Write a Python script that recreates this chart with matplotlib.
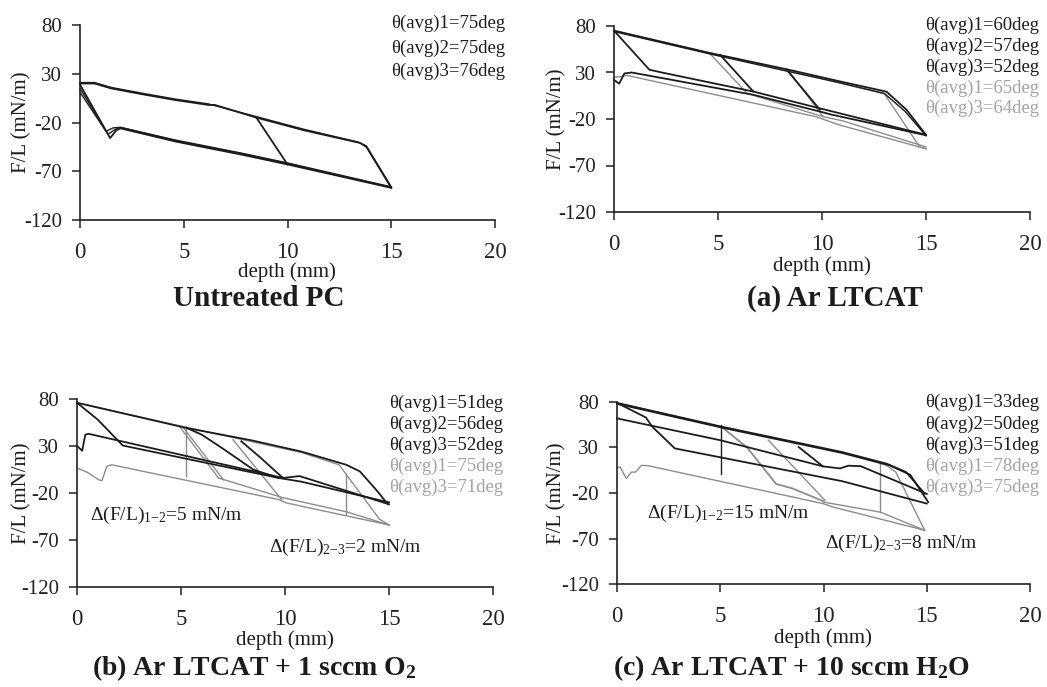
import matplotlib
matplotlib.use("Agg")
import matplotlib.pyplot as plt

plt.rcParams['font.family'] = ['Liberation Serif', 'DejaVu Serif']
plt.rcParams['mathtext.fontset'] = 'custom'
plt.rcParams['mathtext.rm'] = 'Liberation Serif'
plt.rcParams['mathtext.bf'] = 'Liberation Serif:bold'
plt.rcParams['mathtext.it'] = 'Liberation Serif:italic'
plt.rcParams['axes.unicode_minus'] = False

W, H = 1047, 687
DARK = '#1c1c1c'
GRAY = '#8c8c8c'
GRAY_TXT = '#a3a3a3'

# ---------------- data (depth mm, F/L mN/m) ----------------
x_ticks = [0, 5, 10, 15, 20]
y_ticks = [-120, -70, -20, 30, 80]

# Untreated PC
pc_upper_d = [0, 0.7, 1.5, 3.0, 4.6, 6.2, 6.5, 8.5, 10.8, 13.5, 13.8, 15.0]
pc_upper_f = [20, 20, 15, 9, 3, -2, -2, -15, -28, -41, -45, -87]
pc_upper2_d = [0, 0.7, 1.5, 3.0, 4.6, 6.2, 8.5, 10.8, 13.4, 13.8, 15.0]
pc_upper2_f = [21, 21, 16, 10, 4, -1, -14, -27, -40, -44, -86]
pc_adv1_d = [0, 1.45, 1.75, 1.95, 4.6, 7.8, 10.0, 15.0]
pc_adv1_f = [19, -36, -28, -26, -39.5, -53, -63, -87]
pc_adv2_d = [0, 1.35, 1.7, 1.95, 4.6, 7.8, 10.0, 15.0]
pc_adv2_f = [15, -32, -27, -25, -38.5, -52, -62, -86.5]
pc_adv3_d = [0, 1.25, 1.6, 1.95, 4.6, 7.8, 10.0, 15.0]
pc_adv3_f = [11, -29, -25.5, -25, -38, -51.5, -61.5, -86]
pc_rec10_d = [10.0, 8.5]
pc_rec10_f = [-63, -15]

# (a) Ar LTCAT
a_upper_d = [0, 4.6, 8.4, 10.85, 13.1, 14.06, 15.0]
a_upper_f = [75, 51, 33, 20.5, 9.4, -10, -37]
a_upper2_d = [0, 4.6, 8.3, 10.85, 13.0, 14.0, 15.0]
a_upper2_f = [74, 50, 31.5, 19, 7.5, -12, -38]
a_adv1_d = [0, 1.7, 2.3, 6.7, 9.8, 15.0]
a_adv1_f = [75, 33, 30, 9.5, -8, -37]
a_adv2_d = [0, 0.25, 0.5, 0.85, 6.7, 9.9, 10.5, 15.0]
a_adv2_f = [22, 18, 29, 30, 6, -12, -15.5, -37.5]
a_t1_d = [5.1, 6.7]
a_t1_f = [49, 9.5]
a_t2_d = [8.3, 9.9]
a_t2_f = [33, -10]
a_g_upper_d = [0, 4.6, 8.4, 13.0, 14.7, 15.0]
a_g_upper_f = [75, 51, 32, 7, -50, -52]
a_g_adv1_d = [0, 0.3, 0.6, 9.7, 10.85, 15.0]
a_g_adv1_f = [25, 25.5, 27, -17.5, -26.5, -52]
a_g_adv2_d = [6.4, 10.05, 11.0, 15.0]
a_g_adv2_f = [7.6, -17.5, -22, -50]
a_g_t1_d = [4.6, 6.4]
a_g_t1_f = [50.6, 7.6]
a_g_t2_d = [8.5, 10.05]
a_g_t2_f = [29, -17.5]

# (b) Ar LTCAT + 1 sccm O2
b_upper_d = [0, 5.3, 8.4, 10.8, 12.95, 13.6, 14.4, 14.95]
b_upper_f = [76, 49, 36, 24, 10, 3, -17, -32]
b_adv1_d = [0, 1.0, 2.2, 9.7, 10.8, 15.0]
b_adv1_f = [76, 58, 30.5, -4, -8, -30]
b_adv2_d = [0, 0.25, 0.4, 0.55, 9.9, 10.7, 15.0]
b_adv2_f = [30, 25, 42, 43, -4, -2, -32]
b_t1_d = [5.3, 6.0, 6.96, 8.48, 9.7]
b_t1_f = [49, 42, 28, 4.8, -4]
b_t2_d = [7.9, 8.8, 9.9]
b_t2_f = [35, 18, -4]
b_g_upper_d = [0, 5.03, 10.8, 12.6, 14.55, 15.0]
b_g_upper_f = [76, 51, 23, 10, -48, -54]
b_g_t1_d = [4.9, 6.8]
b_g_t1_f = [51.6, -4]
b_g_t2_d = [5.1, 7.04]
b_g_t2_f = [50, -6]
b_g_t3_d = [7.5, 9.84]
b_g_t3_f = [36.7, -27]
b_g_adv1_d = [0, 0.5, 1.05, 1.2, 1.43, 1.67, 9.7, 10.07, 15.0]
b_g_adv1_f = [6.6, 2, -6, -7, 8.3, 10, -27, -30.6, -54]
b_g_adv2_d = [6.8, 9.9, 12.95, 15.0]
b_g_adv2_f = [-4, -25, -40, -54]
b_v1_d = [5.25, 5.25]
b_v1_f = [51, -2]
b_v2_d = [12.95, 12.95]
b_v2_f = [0, -42]

# (c) Ar LTCAT + 10 sccm H2O
c_upper_d = [0, 5.15, 10.9, 13.05, 14.0, 14.9]
c_upper_f = [79, 52.5, 25, 12.3, 3, -20.7]
c_upper2_d = [0, 5.15, 10.9, 13.2, 14.2, 15.07]
c_upper2_f = [78, 51.5, 24, 10.4, 0, -30]
c_adv1_d = [0, 1.4, 1.7, 2.8, 10.9, 15.0]
c_adv1_f = [79, 63, 53, 29, -7, -31.6]
c_b_d = [0, 5.0, 9.97, 10.8, 11.2, 11.8, 15.0]
c_b_f = [62, 38, 9.3, 7, 10, 9.5, -21]
c_t1_d = [8.8, 9.97]
c_t1_f = [30.5, 9.3]
c_v1_d = [5.05, 5.05]
c_v1_f = [55, 1.3]
c_v2_d = [12.75, 12.75]
c_v2_f = [12.3, -41]
c_g_upper_d = [0, 5.15, 10.9, 13.0, 13.5, 14.9]
c_g_upper_f = [79, 52, 24.5, 11, 3, -61]
c_g_t1_d = [5.1, 6.3, 7.7, 8.5, 10.0]
c_g_t1_f = [52, 30, -10, -15, -29]
c_g_t2_d = [7.33, 10.07]
c_g_t2_f = [38, -28]
c_g_adv1_d = [0, 0.15, 0.45, 0.7, 0.9, 1.18, 1.5, 9.97, 10.46, 14.9]
c_g_adv1_f = [8, 8.6, -4, 3, 3, 10.4, 10, -31.6, -35.4, -61]
c_g_adv2_d = [10.0, 12.75, 14.9]
c_g_adv2_f = [-30, -41, -61]

# ---------------- figure ----------------
fig = plt.figure(figsize=(W / 100, H / 100), dpi=100)


def px_axes(x0, y0, x1, y1):
    return fig.add_axes([x0 / W, 1 - y1 / H, (x1 - x0) / W, (y1 - y0) / H])


def ftext(x, y, s, **kw):
    fig.text(x / W, 1 - y / H, s, **kw)


def style(ax):
    ax.set_xlim(0, 20)
    ax.set_ylim(-120, 80)
    ax.set_xticks(x_ticks)
    ax.set_yticks(y_ticks)
    for s in ('top', 'right'):
        ax.spines[s].set_visible(False)
    for s in ('left', 'bottom'):
        ax.spines[s].set_linewidth(1.2)
        ax.spines[s].set_color('#222222')
    ax.tick_params(axis='y', direction='out', length=6, width=1.1,
                   labelsize=15, pad=7, colors='#222222')
    ax.tick_params(axis='x', direction='out', length=6, width=1.1,
                   labelsize=16.5, pad=10, colors='#222222')
    ax.patch.set_alpha(0)


def dark(ax, d, f, lw=1.3):
    ax.plot(d, f, color=DARK, lw=lw, clip_on=False, solid_joinstyle='round')


def gray(ax, d, f, lw=1.0):
    ax.plot(d, f, color=GRAY, lw=lw, clip_on=False, solid_joinstyle='round')


# panel extents in pixels
ax1 = px_axes(80, 25, 495, 220)
ax2 = px_axes(614, 26, 1030, 212)
ax3 = px_axes(77, 399, 493, 587)
ax4 = px_axes(617, 402, 1030, 584)
for ax in (ax1, ax2, ax3, ax4):
    style(ax)

# Untreated PC
dark(ax1, pc_upper_d, pc_upper_f)
dark(ax1, pc_upper2_d, pc_upper2_f, lw=1.0)
dark(ax1, pc_adv1_d, pc_adv1_f)
dark(ax1, pc_adv2_d, pc_adv2_f, lw=1.0)
dark(ax1, pc_adv3_d, pc_adv3_f, lw=1.0)
dark(ax1, pc_rec10_d, pc_rec10_f)

# (a)
gray(ax2, a_g_upper_d, a_g_upper_f)
gray(ax2, a_g_adv1_d, a_g_adv1_f)
gray(ax2, a_g_adv2_d, a_g_adv2_f)
gray(ax2, a_g_t1_d, a_g_t1_f)
gray(ax2, a_g_t2_d, a_g_t2_f)
dark(ax2, a_upper_d, a_upper_f)
dark(ax2, a_upper2_d, a_upper2_f, lw=1.0)
dark(ax2, a_adv1_d, a_adv1_f)
dark(ax2, a_adv2_d, a_adv2_f)
dark(ax2, a_t1_d, a_t1_f)
dark(ax2, a_t2_d, a_t2_f)

# (b)
gray(ax3, b_g_upper_d, b_g_upper_f)
gray(ax3, b_g_t1_d, b_g_t1_f)
gray(ax3, b_g_t2_d, b_g_t2_f)
gray(ax3, b_g_t3_d, b_g_t3_f)
gray(ax3, b_g_adv1_d, b_g_adv1_f)
gray(ax3, b_g_adv2_d, b_g_adv2_f)
gray(ax3, b_v1_d, b_v1_f)
gray(ax3, b_v2_d, b_v2_f)
dark(ax3, b_upper_d, b_upper_f)
dark(ax3, b_adv1_d, b_adv1_f)
dark(ax3, b_adv2_d, b_adv2_f)
dark(ax3, b_t1_d, b_t1_f)
dark(ax3, b_t2_d, b_t2_f)

# (c)
gray(ax4, c_g_upper_d, c_g_upper_f)
gray(ax4, c_g_t1_d, c_g_t1_f, lw=1.3)
gray(ax4, c_g_t2_d, c_g_t2_f)
gray(ax4, c_g_adv1_d, c_g_adv1_f)
gray(ax4, c_g_adv2_d, c_g_adv2_f)
gray(ax4, c_v2_d, c_v2_f)
dark(ax4, c_upper_d, c_upper_f)
dark(ax4, c_upper2_d, c_upper2_f)
dark(ax4, c_adv1_d, c_adv1_f)
dark(ax4, c_b_d, c_b_f)
dark(ax4, c_t1_d, c_t1_f)
dark(ax4, c_v1_d, c_v1_f, lw=1.0)

# ---------------- texts ----------------
theta1 = ['θ(avg)1=75deg', 'θ(avg)2=75deg', 'θ(avg)3=76deg']
theta2 = ['θ(avg)1=60deg', 'θ(avg)2=57deg', 'θ(avg)3=52deg', 'θ(avg)1=65deg', 'θ(avg)3=64deg']
theta3 = ['θ(avg)1=51deg', 'θ(avg)2=56deg', 'θ(avg)3=52deg', 'θ(avg)1=75deg', 'θ(avg)3=71deg']
theta4 = ['θ(avg)1=33deg', 'θ(avg)2=50deg', 'θ(avg)3=51deg', 'θ(avg)1=78deg', 'θ(avg)3=75deg']
theta_colors = [DARK, DARK, DARK, GRAY_TXT, GRAY_TXT]

for s, y in zip(theta1, [23, 48, 71]):
    ftext(505, y, s, ha='right', va='center', fontsize=13.5, color=DARK)
for s, y, c in zip(theta2, [25, 46, 67, 88, 108], theta_colors):
    ftext(925, y, s, ha='left', va='center', fontsize=13.5, color=c)
for s, y, c in zip(theta3, [403, 424, 445, 466, 487], theta_colors):
    ftext(503, y, s, ha='right', va='center', fontsize=13.5, color=c)
for s, y, c in zip(theta4, [402, 424, 445, 466, 487], theta_colors):
    ftext(925, y, s, ha='left', va='center', fontsize=13.5, color=c)

ftext(90, 515, r'Δ(F/L)$_{1\mathrm{-}2}$=5 mN/m', ha='left', va='center', fontsize=14, color=DARK)
ftext(269, 547, r'Δ(F/L)$_{2\mathrm{-}3}$=2 mN/m', ha='left', va='center', fontsize=14, color=DARK)
ftext(647, 513, r'Δ(F/L)$_{1\mathrm{-}2}$=15 mN/m', ha='left', va='center', fontsize=14, color=DARK)
ftext(825, 543, r'Δ(F/L)$_{2\mathrm{-}3}$=8 mN/m', ha='left', va='center', fontsize=14, color=DARK)

# axis labels
for x, yc in [(22, 122), (557, 119), (22, 493), (557, 493)]:
    ftext(x, yc, 'F/L (mN/m)', rotation=90, ha='center', va='center', fontsize=15, color=DARK)
for xc, y in [(287, 272), (822, 266), (285, 640), (823, 638)]:
    ftext(xc, y, 'depth (mm)', ha='center', va='center', fontsize=15, color=DARK)

# panel titles
ftext(259, 298, 'Untreated PC', ha='center', va='center', fontsize=21, fontweight='bold', color=DARK)
ftext(835, 298, '(a) Ar LTCAT', ha='center', va='center', fontsize=21, fontweight='bold', color=DARK)
ftext(254, 668, r'(b) Ar LTCAT + 1 sccm O$_{\mathbf{2}}$', ha='center', va='center', fontsize=20,
      fontweight='bold', color=DARK)
ftext(791, 668, r'(c) Ar LTCAT + 10 sccm H$_{\mathbf{2}}$O', ha='center', va='center', fontsize=20,
      fontweight='bold', color=DARK)

fig.savefig('out.png', dpi=100)
